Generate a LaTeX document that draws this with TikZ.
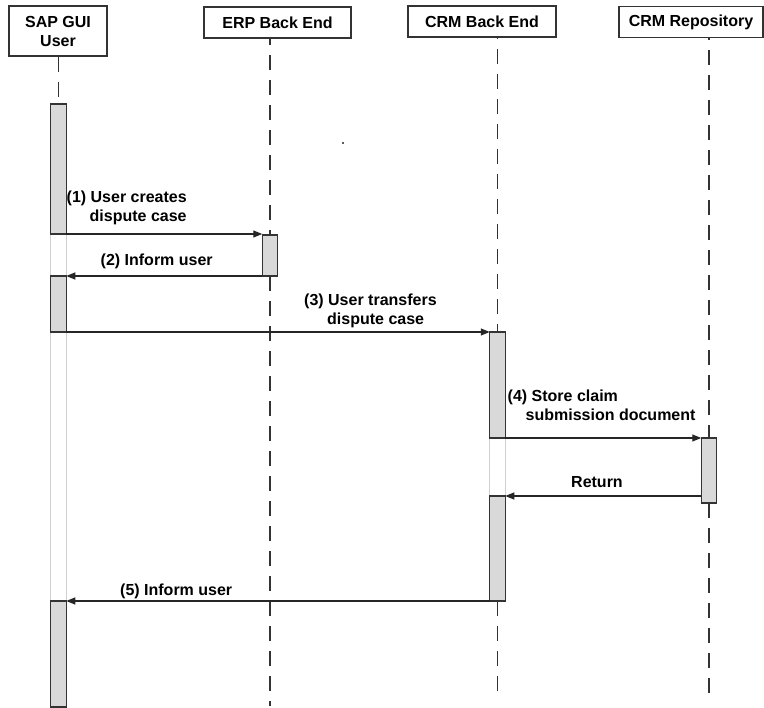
\documentclass[tikz,border=0pt]{standalone}
\usepackage{fontspec}
\setmainfont{Liberation Sans}
\usetikzlibrary{arrows.meta}
\definecolor{inkgray}{HTML}{333333}
\definecolor{barfill}{HTML}{D9D9D9}
\definecolor{faintgray}{HTML}{D0D0D0}
\tikzset{
  header/.style={draw=inkgray, line width=1.2pt, fill=white, inner sep=0pt, outer sep=0pt,
    align=center, font=\fontsize{16}{19}\selectfont\bfseries},
  actbar/.style={draw=inkgray, line width=1.1pt, fill=barfill, inner sep=0pt, outer sep=0pt,
    minimum width=15.5pt, anchor=north},
  faintbar/.style={draw=faintgray, line width=0.7pt},
  lifeline/.style={draw=inkgray, line width=1.5pt, dash pattern=on 15pt off 10pt},
  msg/.style={draw=black!85, line width=1.2pt, -{Triangle[length=9pt,width=7pt]}},
  msglabel/.style={inner sep=0pt, anchor=west, align=left,
    font=\fontsize{16}{19}\selectfont\bfseries}
}
\begin{document}
\begin{tikzpicture}[x=1pt, y=-1pt]
\useasboundingbox (0,0) rectangle (764,708);

% participants
\node[header, minimum width=98pt, minimum height=50pt] (sap) at (58,31) {SAP GUI\\User};
\node[header, minimum width=147pt, minimum height=31pt] (erp) at (277.5,22.5) {ERP Back End};
\node[header, minimum width=148pt, minimum height=31pt] (crm) at (482,21.5) {CRM Back End};
\node[header, minimum width=144pt, minimum height=31pt] (rep) at (691,22) {CRM Repository};

% lifeline ends
\coordinate (sapTop) at (58.5,56);
\coordinate (erpTop) at (270,38);
\coordinate (erpEnd) at (270,706);
\coordinate (crmTop) at (497.5,37);
\coordinate (crmEnd) at (497.5,700);
\coordinate (repTop) at (709,37);
\coordinate (repEnd) at (709,700);

% faint outlines of the long-running activations
\draw[faintbar] (50.75,104) rectangle (66.25,707);
\draw[faintbar] (489.75,332) rectangle (505.25,601);

% activation bars
\node[actbar, minimum height=130pt] (s1) at (58.5,104) {};
\node[actbar, minimum height=41pt]  (e1) at (270,235) {};
\node[actbar, minimum height=56pt]  (s2) at (58.5,276) {};
\node[actbar, minimum height=106pt] (c1) at (497.5,332) {};
\node[actbar, minimum height=65pt]  (r1) at (709,438) {};
\node[actbar, minimum height=105pt] (c2) at (497.5,496) {};
\node[actbar, minimum height=106pt] (s3) at (58.5,601) {};

% lifelines
\draw[lifeline, dash phase=-1pt] (sapTop) -- (s1.north);
\draw[lifeline, dash phase=-17pt] (erpTop) -- (e1.north);
\draw[lifeline] (e1.south) -- (erpEnd);
\draw[lifeline, dash phase=-12pt] (crmTop) -- (c1.north);
\draw[lifeline] (c2.south) -- (crmEnd);
\draw[lifeline, dash phase=-13pt] (repTop) -- (r1.north);
\draw[lifeline] (r1.south) -- (repEnd);

% messages
\draw[msg] (s1.south east) -- (s1.south east -| e1.west);
\draw[msg] (e1.south west) -- (s2.north east);
\draw[msg] (s2.south east) -- (c1.north west);
\draw[msg] (c1.south east) -- (r1.north west);
\coordinate (retStart) at (r1.west |- c2.north);
\draw[msg] (retStart) -- (c2.north east);
\draw[msg] (c2.south west) -- (s3.north east);

% message labels
\node[msglabel] (l1) at (66.5,207.5) {(1) User creates\\\hspace*{23pt}dispute case};
\node[msglabel] (l2) at (100.5,261) {(2) Inform user};
\node[msglabel] (l3) at (304,311) {(3) User transfers\\\hspace*{23pt}dispute case};
\node[msglabel] (l4) at (507.5,405.5) {(4) Store claim\\\hspace*{18pt}submission document};
\node[msglabel] (l5) at (571,482) {Return};
\node[msglabel] (l6) at (120,591) {(5) Inform user};

% stray speck
\fill[inkgray!80] (342,142) rectangle (344,144);
\end{tikzpicture}
\end{document}
